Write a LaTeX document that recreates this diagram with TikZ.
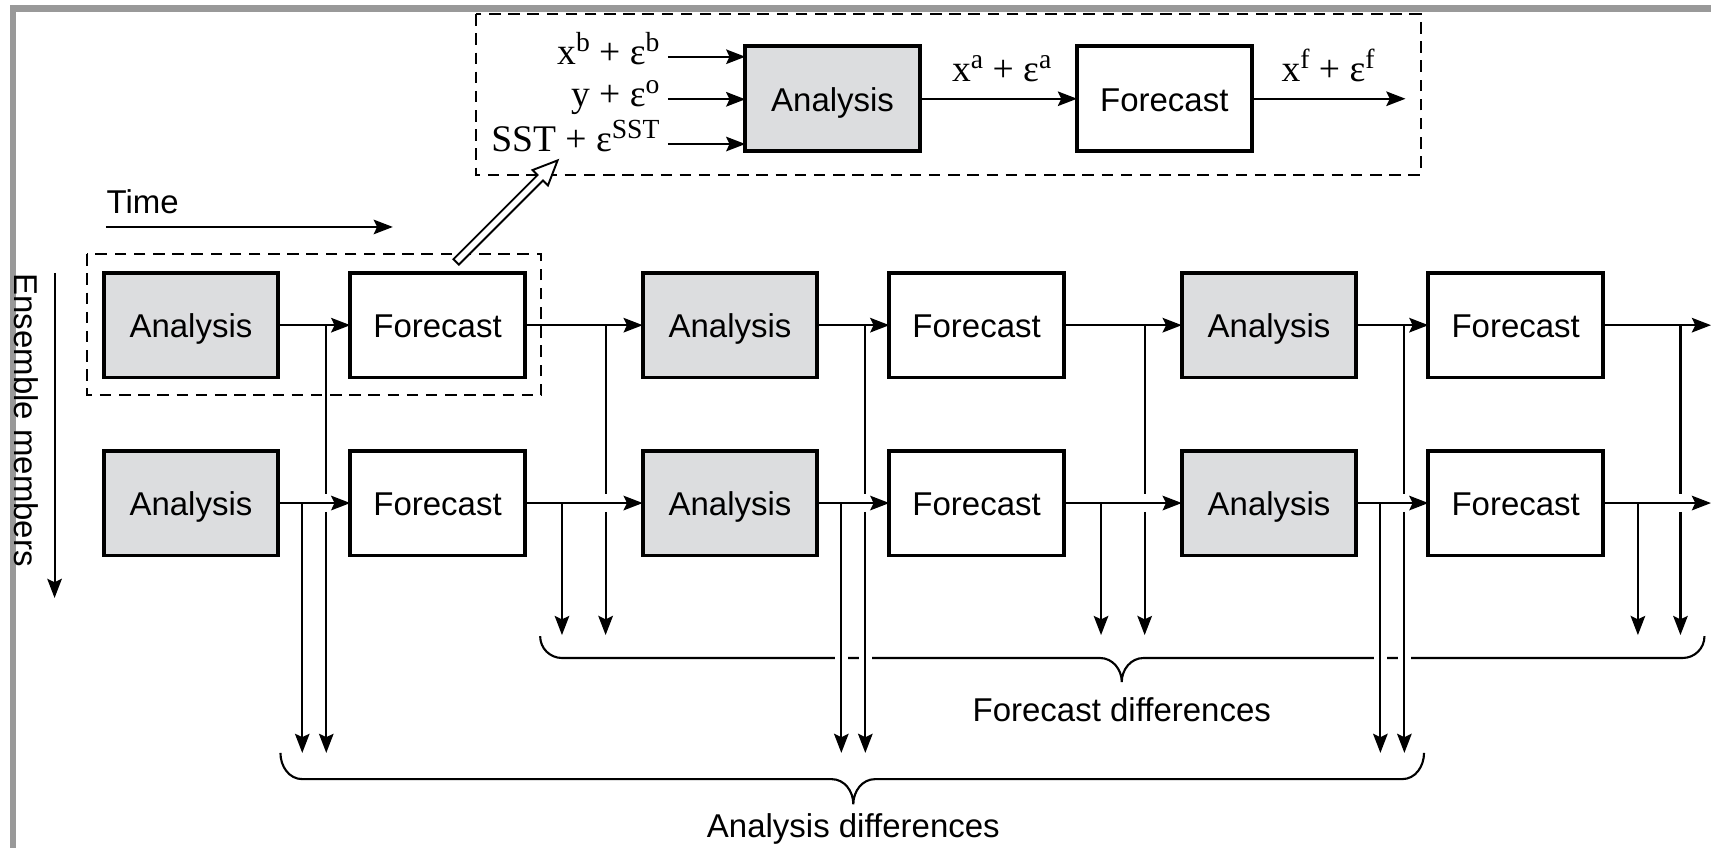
\documentclass[tikz,border=0pt]{standalone}
\usepackage{fontspec}
\setmainfont{Liberation Sans}
\newfontfamily\serfont{Liberation Serif}
\usetikzlibrary{positioning,arrows.meta}
\definecolor{anafill}{HTML}{DCDDDF}
\definecolor{framegray}{HTML}{999999}
\newcommand{\sps}[1]{\raisebox{0.75ex}{\fontsize{7.2}{7.2}\selectfont #1}}
\tikzset{
  anabox/.style={draw, line width=1pt, fill=anafill, minimum width=16mm, minimum height=9.6mm, inner sep=0pt,
    outer sep=0pt, text height=1.6ex, text depth=0.35ex},
  fcbox/.style={anabox, fill=white},
  link/.style={line width=0.55pt},
  arrow/.style={link, -{Stealth[length=5pt,width=3.8pt,inset=0.9pt]}},
  dashbox/.style={line width=0.5pt, dash pattern=on 3pt off 2pt},
  halo/.style={white, line width=3.4pt},
  serlab/.style={font=\serfont\fontsize{9.8}{11}\selectfont, inner sep=0pt},
  brace/.style={line width=0.55pt},
  hollow/.style={line width=0.5pt, fill=white, line join=miter}
}

\begin{document}
\begin{tikzpicture}[font=\fontsize{8.6}{10}\selectfont]
  \useasboundingbox (0,0) rectangle (15.68,-7.77);
  \draw[framegray, line width=1.7pt] (0.12,-7.77) -- (0.12,-0.078) -- (15.68,-0.078);

  % one cycle, zoomed
  \node[anabox] (topA) at (7.63,-0.905) {Analysis};
  \node[fcbox, right=1.44cm of topA] (topF) {Forecast};
  \coordinate (inB) at (6.12,-0.52);
  \coordinate (inO) at (6.12,-0.91);
  \coordinate (inS) at (6.12,-1.32);
  \coordinate (outF) at (12.88,-0.905);
  \draw[arrow] (inB) -- (inB -| topA.west);
  \draw[arrow] (inO) -- (inO -| topA.west);
  \draw[arrow] (inS) -- (inS -| topA.west);
  \node[serlab, anchor=base east] (labB) at ([shift={(-0.07,-0.07)}]inB) {x\sps{b} + ε\sps{b}};
  \node[serlab, anchor=base east] (labO) at ([shift={(-0.07,-0.07)}]inO) {y + ε\sps{o}};
  \node[serlab, anchor=base east] (labS) at ([shift={(-0.07,-0.07)}]inS) {SST + ε\sps{SST}};
  \draw[arrow] (topA) -- (topF);
  \draw[arrow] (topF) -- (outF);
  \node[serlab, anchor=base] (labA) at (9.18,-0.75) {x\sps{a} + ε\sps{a}};
  \node[serlab, anchor=base] (labF) at (12.17,-0.75) {x\sps{f} + ε\sps{f}};
  \draw[dashbox] (4.36,-0.13) rectangle (13.02,-1.60);

  % axes
  \node[anchor=west, inner sep=0pt] (timel) at (0.97,-1.85) {Time};
  \coordinate (timeA) at (0.97,-2.08);
  \coordinate (timeB) at (3.60,-2.08);
  \draw[arrow] (timeA) -- (timeB);
  \node[rotate=-90, inner sep=0pt] (ensl) at (0.245,-3.85) {Ensemble members};
  \coordinate (ensA) at (0.50,-2.50);
  \coordinate (ensB) at (0.50,-5.48);
  \draw[arrow] (ensA) -- (ensB);

  % member 1
  \node[anabox] (upA1) at (1.75,-2.98) {Analysis};
  \node[fcbox, right=0.66cm of upA1] (upF1) {Forecast};
  \node[anabox, right=1.08cm of upF1] (upA2) {Analysis};
  \node[fcbox, right=0.66cm of upA2] (upF2) {Forecast};
  \node[anabox, right=1.08cm of upF2] (upA3) {Analysis};
  \node[fcbox, right=0.66cm of upA3] (upF3) {Forecast};
  % member 2
  \node[anabox, below=0.67cm of upA1] (loA1) {Analysis};
  \node[fcbox, right=0.66cm of loA1] (loF1) {Forecast};
  \node[anabox, right=1.08cm of loF1] (loA2) {Analysis};
  \node[fcbox, right=0.66cm of loA2] (loF2) {Forecast};
  \node[anabox, right=1.08cm of loF2] (loA3) {Analysis};
  \node[fcbox, right=0.66cm of loA3] (loF3) {Forecast};

  \draw[dashbox] (0.80,-2.33) rectangle (4.96,-3.62);
  \begin{scope}[shift={(4.18,-2.40)}, rotate=45]
    \draw[hollow] (0,-0.035) -- (1.09,-0.035) -- (1.09,-0.10) -- (1.315,0) -- (1.09,0.10) -- (1.09,0.035) -- (0,0.035) -- cycle;
  \end{scope}

  \coordinate (outU) at ([xshift=9.9mm]upF3.east);
  \coordinate (outL) at ([xshift=9.9mm]loF3.east);
  \draw[arrow] (upA1) -- (upF1);
  \draw[arrow] (upF1) -- (upA2);
  \draw[arrow] (upA2) -- (upF2);
  \draw[arrow] (upF2) -- (upA3);
  \draw[arrow] (upA3) -- (upF3);
  \draw[arrow] (upF3) -- (outU);
  \draw[arrow] (loA1) -- (loF1);
  \draw[arrow] (loF1) -- (loA2);
  \draw[arrow] (loA2) -- (loF2);
  \draw[arrow] (loF2) -- (loA3);
  \draw[arrow] (loA3) -- (loF3);
  \draw[arrow] (loF3) -- (outL);

  % braces
  \draw[brace] (4.95,-5.83) to[out=-90,in=180] (5.15,-6.03) -- (10.08,-6.03) to[out=0,in=90] (10.28,-6.25)
    to[out=90,in=180] (10.48,-6.03) -- (15.42,-6.03) to[out=0,in=-90] (15.62,-5.83);
  \node (fdiff) at (10.28,-6.50) {Forecast differences};
  \draw[brace] (2.57,-6.90) to[out=-90,in=180] (2.77,-7.14) -- (7.62,-7.14) to[out=0,in=90] (7.82,-7.37)
    to[out=90,in=180] (8.02,-7.14) -- (12.85,-7.14) to[out=0,in=-90] (13.05,-6.90);
  \node (adiff) at (7.82,-7.60) {Analysis differences};

  % taps
  \coordinate (a1u) at ([xshift=-2.2mm]upF1.west);
  \coordinate (a1l) at ([xshift=2.2mm]loA1.east);
  \coordinate (f1u) at ([xshift=-3.4mm]upA2.west);
  \coordinate (f1l) at ([xshift=3.4mm]loF1.east);
  \coordinate (a2u) at ([xshift=-2.2mm]upF2.west);
  \coordinate (a2l) at ([xshift=2.2mm]loA2.east);
  \coordinate (f2u) at ([xshift=-3.4mm]upA3.west);
  \coordinate (f2l) at ([xshift=3.4mm]loF2.east);
  \coordinate (a3u) at ([xshift=-2.2mm]upF3.west);
  \coordinate (a3l) at ([xshift=2.2mm]loA3.east);
  \coordinate (f3u) at ([xshift=7.1mm]upF3.east);
  \coordinate (f3l) at ([xshift=3.2mm]loF3.east);
  \coordinate (gapT) at (0,-4.53);
  \coordinate (gapB) at (0,-4.69);
  \coordinate (fEnd) at (0,-5.82);
  \coordinate (aEnd) at (0,-6.90);
  \coordinate (fbr) at (0,-6.03);

  \draw[halo] ([yshift=1mm]a2u |- fbr) -- ([yshift=-1mm]a2u |- fbr);
  \draw[halo] ([yshift=1mm]a2l |- fbr) -- ([yshift=-1mm]a2l |- fbr);
  \draw[halo] ([yshift=1mm]a3u |- fbr) -- ([yshift=-1mm]a3u |- fbr);
  \draw[halo] ([yshift=1mm]a3l |- fbr) -- ([yshift=-1mm]a3l |- fbr);

  \draw[link] (a1u) -- (a1u |- gapT);
  \draw[arrow] (a1u |- gapB) -- (a1u |- aEnd);
  \draw[arrow] (a1l) -- (a1l |- aEnd);
  \draw[link] (f1u) -- (f1u |- gapT);
  \draw[arrow] (f1u |- gapB) -- (f1u |- fEnd);
  \draw[arrow] (f1l) -- (f1l |- fEnd);
  \draw[link] (a2u) -- (a2u |- gapT);
  \draw[arrow] (a2u |- gapB) -- (a2u |- aEnd);
  \draw[arrow] (a2l) -- (a2l |- aEnd);
  \draw[link] (f2u) -- (f2u |- gapT);
  \draw[arrow] (f2u |- gapB) -- (f2u |- fEnd);
  \draw[arrow] (f2l) -- (f2l |- fEnd);
  \draw[link] (a3u) -- (a3u |- gapT);
  \draw[arrow] (a3u |- gapB) -- (a3u |- aEnd);
  \draw[arrow] (a3l) -- (a3l |- aEnd);
  \draw[link] (f3u) -- (f3u |- gapT);
  \draw[arrow] (f3u |- gapB) -- (f3u |- fEnd);
  \draw[arrow] (f3l) -- (f3l |- fEnd);
\end{tikzpicture}
\end{document}
